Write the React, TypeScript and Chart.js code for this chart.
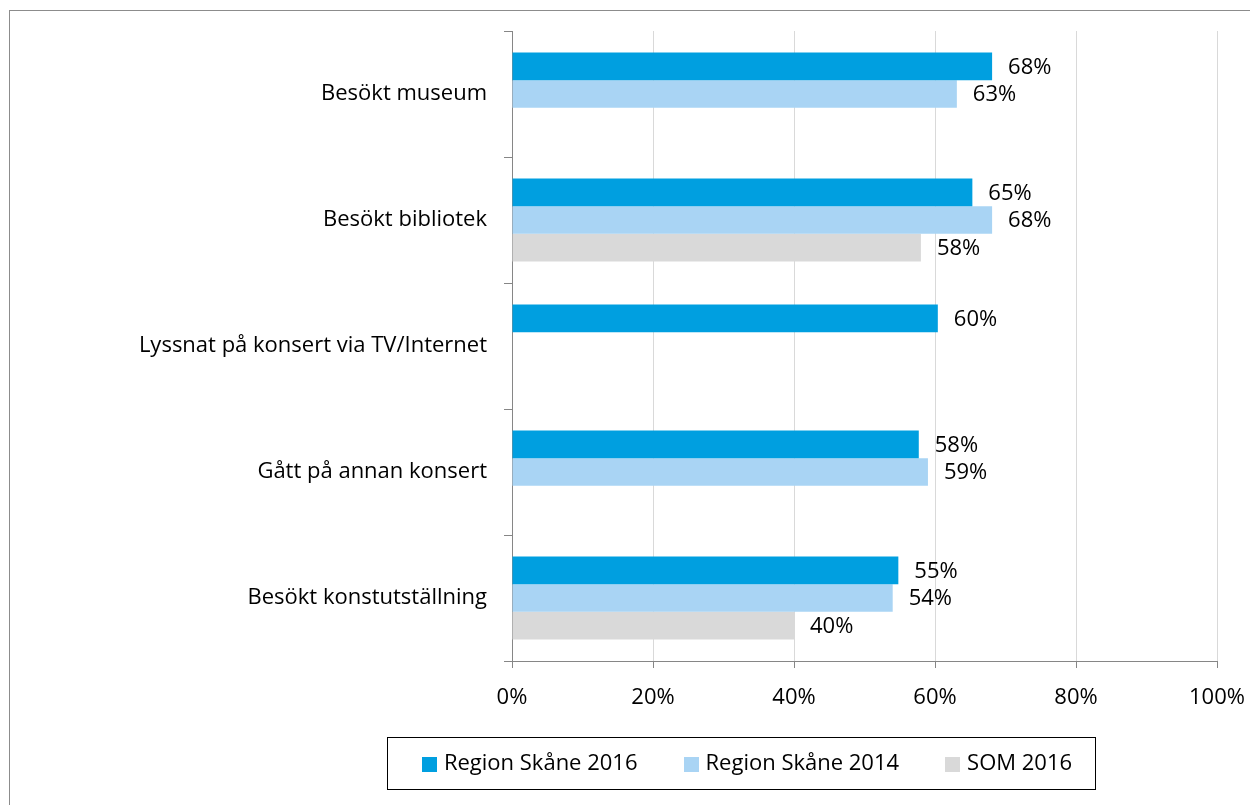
import React, { useEffect, useRef } from "react";
import { Chart, registerables } from "chart.js";

Chart.register(...registerables);

const categories = [
  "Besökt museum",
  "Besökt bibliotek",
  "Lyssnat på konsert via TV/Internet",
  "Gått på annan konsert",
  "Besökt konstutställning",
];
const seriesNames = ["Region Skåne 2016", "Region Skåne 2014", "SOM 2016"];
const skane2016 = [68.1, 65.3, 60.4, 57.7, 54.8];
const skane2014 = [63.1, 68.1, null, 59.0, 54.0];
const som2016 = [null, 58.0, null, null, 40.0];
const seriesColors = ["#009FE0", "#A9D4F4", "#D9D9D9"];
const xTickValues = [0, 20, 40, 60, 80, 100];

const FONT = '"Open Sans", "DejaVu Sans", sans-serif';

const valueLabelPlugin = {
  id: "valueLabels",
  afterDatasetsDraw(chart: any) {
    const ctx = chart.ctx;
    ctx.save();
    ctx.font = `22px ${FONT}`;
    ctx.fillStyle = "#000";
    ctx.textAlign = "left";
    ctx.textBaseline = "middle";
    chart.data.datasets.forEach((ds: any, di: number) => {
      const meta = chart.getDatasetMeta(di);
      meta.data.forEach((el: any, i: number) => {
        const v = ds.data[i];
        if (v === null || v === undefined) return;
        ctx.fillText(Math.round(v) + "%", el.x + 16, el.y + 1);
      });
    });
    ctx.restore();
  },
};

const boxLegendPlugin = {
  id: "boxLegend",
  afterDraw(chart: any, _args: any, opts: any) {
    const ctx = chart.ctx;
    const { x, y, w, h } = opts.box;
    ctx.save();
    ctx.strokeStyle = "#000";
    ctx.lineWidth = 1;
    ctx.strokeRect(x + 0.5, y + 0.5, w, h);
    ctx.font = `22px ${FONT}`;
    ctx.textBaseline = "middle";
    ctx.textAlign = "left";
    const marker = 15;
    const gap = 7;
    const spacing = 46;
    const items = chart.data.datasets.map((ds: any) => ({
      label: ds.label,
      color: ds.backgroundColor,
      width: ctx.measureText(ds.label).width,
    }));
    let total = 0;
    items.forEach((it: any, i: number) => {
      total += marker + gap + it.width + (i > 0 ? spacing : 0);
    });
    let cx = x + w / 2 + opts.shift - total / 2;
    const cy = y + h / 2 + 1;
    items.forEach((it: any) => {
      ctx.fillStyle = it.color;
      ctx.fillRect(Math.round(cx), Math.round(cy - marker / 2), marker, marker);
      ctx.fillStyle = "#000";
      ctx.fillText(it.label, cx + marker + gap, cy);
      cx += marker + gap + it.width + spacing;
    });
    ctx.restore();
  },
};

function BarChart() {
  const ref = useRef<HTMLCanvasElement | null>(null);
  useEffect(() => {
    if (!ref.current) return;
    const chart = new Chart(ref.current, {
      type: "bar",
      data: {
        labels: categories,
        datasets: [skane2016, skane2014, som2016].map((d, i) => ({
          label: seriesNames[i],
          data: d,
          backgroundColor: seriesColors[i],
          borderWidth: 0,
          categoryPercentage: 0.66,
          barPercentage: 1,
        })),
      },
      options: {
        indexAxis: "y",
        animation: false,
        responsive: false,
        devicePixelRatio: 1,
        layout: { padding: { left: 0, top: 20, right: 33, bottom: 84 } },
        plugins: {
          legend: { display: false },
          tooltip: { enabled: false },
          boxLegend: { box: { x: 377, y: 726, w: 708, h: 52 }, shift: 6 },
        } as any,
        scales: {
          x: {
            min: 0,
            max: 100,
            afterFit: (s: any) => {
              s.height = 60;
              s.paddingLeft = 0;
              s.paddingRight = 0;
            },
            afterBuildTicks: (s: any) => {
              s.ticks = xTickValues.map((v) => ({ value: v }));
            },
            ticks: {
              callback: (v: any) => v + "%",
              color: "#000",
              font: { family: FONT, size: 22 },
              padding: 17,
            },
            grid: {
              color: (c: any) => (c.tick && c.tick.value === 0 ? "#868686" : "#D9D9D9"),
              tickColor: "#868686",
              tickLength: 7,
              lineWidth: 1,
            },
            border: { display: true, color: "#868686" },
          },
          y: {
            z: 1,
            afterFit: (s: any) => {
              s.width = 502;
              s.paddingTop = 0;
              s.paddingBottom = 0;
            },
            ticks: {
              color: "#000",
              font: { family: FONT, size: 22 },
              padding: 17,
            },
            grid: {
              offset: true,
              drawOnChartArea: false,
              drawTicks: true,
              tickLength: 8,
              color: "#868686",
            },
            border: { display: true, color: "#868686" },
          },
        },
      } as any,
      plugins: [valueLabelPlugin, boxLegendPlugin],
    });
    return () => chart.destroy();
  }, []);
  return <canvas ref={ref} width={1240} height={794} style={{ display: "block", width: 1240, height: 794 }} />;
}

export default function App() {
  return (
    <div style={{ position: "fixed", left: 0, top: 0, width: 1250, height: 805, overflow: "hidden", background: "#fff" }}>
      <div
        style={{
          position: "absolute",
          left: 9,
          top: 10,
          width: 1260,
          height: 810,
          border: "1px solid #8C8C8C",
          background: "#fff",
        }}
      >
        <BarChart />
      </div>
    </div>
  );
}
